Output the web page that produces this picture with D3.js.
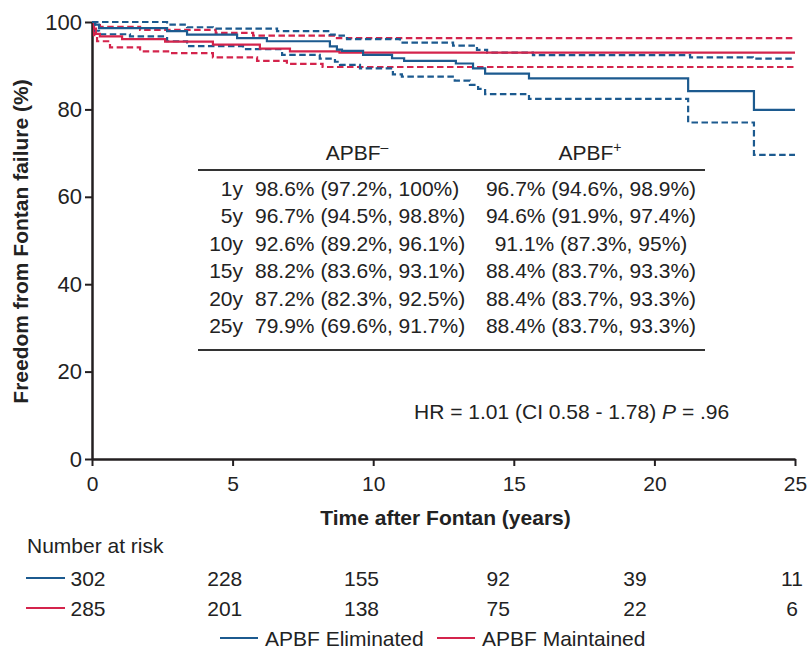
<!DOCTYPE html>
<html>
<head>
<meta charset="utf-8">
<script src="https://cdn.jsdelivr.net/npm/d3@7"></script>
<style>
  html, body { margin: 0; padding: 0; background: #fff; }
  svg { display: block; font-family: "Liberation Sans", Arial, Helvetica, sans-serif; }
</style>
</head>
<body>
<svg id="chart" width="807" height="653"></svg>
<script>
// ---------- DATA ----------
const xTicks = [0, 5, 10, 15, 20, 25];
const yTicks = [0, 20, 40, 60, 80, 100];

// APBF Eliminated (blue)
const elimTime  = [0, 0.11, 0.25, 2.67, 3.38, 5.16, 6.22, 8.46, 8.71, 8.89, 9.64, 10.67, 11.1, 12.94, 13.55, 13.98, 15.54, 21.2, 23.54];
const elimSurv  = [100, 99.4, 98.6, 97.9, 97.1, 96.3, 95.6, 94.4, 93.7, 93.4, 92.5, 91.7, 91.1, 90.5, 89.4, 88.2, 87.1, 84.2, 79.9];
const elimUpTime = [0, 2.67, 3.38, 4.3, 6.58, 8.46, 8.71, 9.07, 10.95, 12.84, 13.69, 14.05, 15.68, 21.27, 23.5];
const elimUpper  = [100, 99.4, 98.8, 98.5, 97.9, 97.1, 96.9, 96.1, 95.3, 94.6, 93.6, 93.0, 92.4, 91.9, 91.6];
const elimLoTime = [0, 0.11, 0.25, 1.35, 2.67, 3.38, 5.37, 6.76, 8.1, 8.64, 8.82, 9.53, 10.7, 11.02, 12.9, 13.44, 13.73, 13.98, 15.54, 21.2, 23.54];
const elimLower  = [100, 98.0, 97.2, 96.7, 95.6, 94.5, 93.8, 92.5, 91.6, 90.9, 90.2, 89.4, 88.0, 87.5, 86.6, 85.6, 84.7, 83.5, 82.4, 77.0, 69.6];

// APBF Maintained (red)
const maintTime = [0, 0.07, 0.14, 0.28, 1.07, 2.6, 4.3, 5.97, 7.04, 8.8];
const maintSurv = [100, 98.5, 97.3, 96.7, 96.1, 95.5, 94.8, 93.9, 93.3, 93.0];
const maintUpTime = [0, 0.11, 0.28, 1.71, 4.4, 5.73, 8.64];
const maintUpper  = [100, 99.3, 98.9, 98.2, 97.5, 96.9, 96.3];
const maintLoTime = [0, 0.07, 0.18, 0.64, 1.71, 2.77, 4.3, 5.87, 6.93, 8.2];
const maintLower  = [100, 97.0, 95.6, 94.2, 93.3, 92.9, 91.9, 91.1, 90.4, 89.7];

// Inset table
const tableHeaders = ["APBF", "APBF"];
const tableHeaderSup = ["\u2013", "+"];
const tableYears = ["1y", "5y", "10y", "15y", "20y", "25y"];
const tableMinus = ["98.6% (97.2%, 100%)", "96.7% (94.5%, 98.8%)", "92.6% (89.2%, 96.1%)",
                    "88.2% (83.6%, 93.1%)", "87.2% (82.3%, 92.5%)", "79.9% (69.6%, 91.7%)"];
const tablePlus  = ["96.7% (94.6%, 98.9%)", "94.6% (91.9%, 97.4%)", "91.1% (87.3%, 95%)",
                    "88.4% (83.7%, 93.3%)", "88.4% (83.7%, 93.3%)", "88.4% (83.7%, 93.3%)"];

// Number at risk
const riskTimes = [0, 5, 10, 15, 20, 25];
const riskElim  = [302, 228, 155, 92, 39, 11];
const riskMaint = [285, 201, 138, 75, 22, 6];

const seriesNames = ["APBF Eliminated", "APBF Maintained"];
const hrParts = ["HR = 1.01 (CI 0.58 - 1.78) ", "P", " = .96"];

// ---------- STYLE ----------
const BLUE = "#1c5a8f";
const RED = "#d4244c";
const INK = "#231f20";
const FS = 21;

const svg = d3.select("#chart");
const x = d3.scaleLinear().domain([0, 25]).range([92, 795]);
const y = d3.scaleLinear().domain([0, 100]).range([459, 22]);

// Axes
const yAxis = svg.append("g").attr("transform", `translate(${x(0)},0)`)
  .call(d3.axisLeft(y).tickValues(yTicks).tickSize(7).tickSizeOuter(0).tickPadding(3));
const xAxis = svg.append("g").attr("transform", `translate(0,${y(0)})`)
  .call(d3.axisBottom(x).tickValues(xTicks).tickSize(7).tickSizeOuter(0).tickPadding(10));
[yAxis, xAxis].forEach(g => {
  g.select(".domain").attr("stroke", INK).attr("stroke-width", 2.5);
  g.selectAll(".tick line").attr("stroke", INK).attr("stroke-width", 2);
  g.selectAll(".tick text").attr("fill", "#222").attr("font-size", FS)
    .attr("font-family", "'Liberation Sans', Arial, sans-serif");
});
yAxis.selectAll(".tick text").attr("font-size", 22);

// Axis titles
svg.append("text")
  .attr("transform", `translate(28,${(y(0) + y(100)) / 2 + 1}) rotate(-90)`)
  .attr("text-anchor", "middle").attr("font-weight", "bold").attr("font-size", FS).attr("fill", "#222")
  .text("Freedom from Fontan failure (%)");
svg.append("text")
  .attr("x", (x(0) + x(25)) / 2 + 2).attr("y", 525)
  .attr("text-anchor", "middle").attr("font-weight", "bold").attr("font-size", FS).attr("fill", "#222")
  .text("Time after Fontan (years)");

// Curves
const line = d3.line().x(d => x(d[0])).y(d => y(d[1])).curve(d3.curveStepAfter);
function pts(times, vals) {
  const p = times.map((t, i) => [t, vals[i]]);
  p.push([25, vals[vals.length - 1]]);
  return p;
}
const curves = [
  { t: maintUpTime, v: maintUpper, c: RED, dash: true },
  { t: maintLoTime, v: maintLower, c: RED, dash: true },
  { t: elimUpTime, v: elimUpper, c: BLUE, dash: true },
  { t: elimLoTime, v: elimLower, c: BLUE, dash: true },
  { t: maintTime, v: maintSurv, c: RED, dash: false },
  { t: elimTime, v: elimSurv, c: BLUE, dash: false }
];
svg.append("g").selectAll("path").data(curves).join("path")
  .attr("d", d => line(pts(d.t, d.v)))
  .attr("fill", "none")
  .attr("stroke", d => d.c)
  .attr("stroke-width", 2.2)
  .attr("stroke-dasharray", d => d.dash ? "6.5,3.5" : null);

// Inset table
const tbl = svg.append("g").attr("fill", "#222").attr("font-size", FS);
const headerX = [357, 590];
tableHeaders.forEach((h, i) => {
  const t = tbl.append("text").attr("x", headerX[i]).attr("y", 160).attr("text-anchor", "middle");
  t.append("tspan").text(h);
  t.append("tspan").attr("font-size", 14).attr("dy", -8).text(tableHeaderSup[i]);
});
tbl.append("line").attr("x1", 198).attr("x2", 705).attr("y1", 170).attr("y2", 170)
  .attr("stroke", "#333").attr("stroke-width", 2);
tbl.append("line").attr("x1", 198).attr("x2", 705).attr("y1", 350).attr("y2", 350)
  .attr("stroke", "#333").attr("stroke-width", 2);
const rowY = d3.scaleLinear().domain([0, 5]).range([195.5, 333]);
tableYears.forEach((yr, i) => {
  tbl.append("text").attr("x", 243).attr("y", rowY(i)).attr("text-anchor", "end").text(yr);
  tbl.append("text").attr("x", 255).attr("y", rowY(i)).attr("text-anchor", "start").text(tableMinus[i]);
  tbl.append("text").attr("x", 591).attr("y", rowY(i)).attr("text-anchor", "middle").text(tablePlus[i]);
});

// HR annotation
const hr = svg.append("text").attr("x", 414).attr("y", 419).attr("font-size", FS).attr("fill", "#222");
hr.append("tspan").text(hrParts[0]);
hr.append("tspan").attr("font-style", "italic").text(hrParts[1]);
hr.append("tspan").text(hrParts[2]);

// Number at risk
svg.append("text").attr("x", 27).attr("y", 553).attr("font-size", FS).attr("fill", "#222").text("Number at risk");
const riskX = d3.scaleLinear().domain([0, 20, 25]).range([88, 635, 792]);
[[riskElim, BLUE, 578], [riskMaint, RED, 608]].forEach(([vals, col, yy]) => {
  svg.append("line").attr("x1", 26).attr("x2", 65).attr("y1", yy).attr("y2", yy)
    .attr("stroke", col).attr("stroke-width", 2);
  svg.append("g").selectAll("text").data(vals).join("text")
    .attr("x", (d, i) => riskX(riskTimes[i])).attr("y", yy + 7.5)
    .attr("text-anchor", "middle").attr("font-size", FS).attr("fill", "#222")
    .text(d => d);
});

// Legend
const legendItems = [
  { name: seriesNames[0], c: BLUE, x0: 220 },
  { name: seriesNames[1], c: RED, x0: 437 }
];
legendItems.forEach(l => {
  svg.append("line").attr("x1", l.x0).attr("x2", l.x0 + 38).attr("y1", 638).attr("y2", 638)
    .attr("stroke", l.c).attr("stroke-width", 2);
  svg.append("text").attr("x", l.x0 + 45).attr("y", 645.5).attr("font-size", FS).attr("fill", "#222").text(l.name);
});
</script>
</body>
</html>
